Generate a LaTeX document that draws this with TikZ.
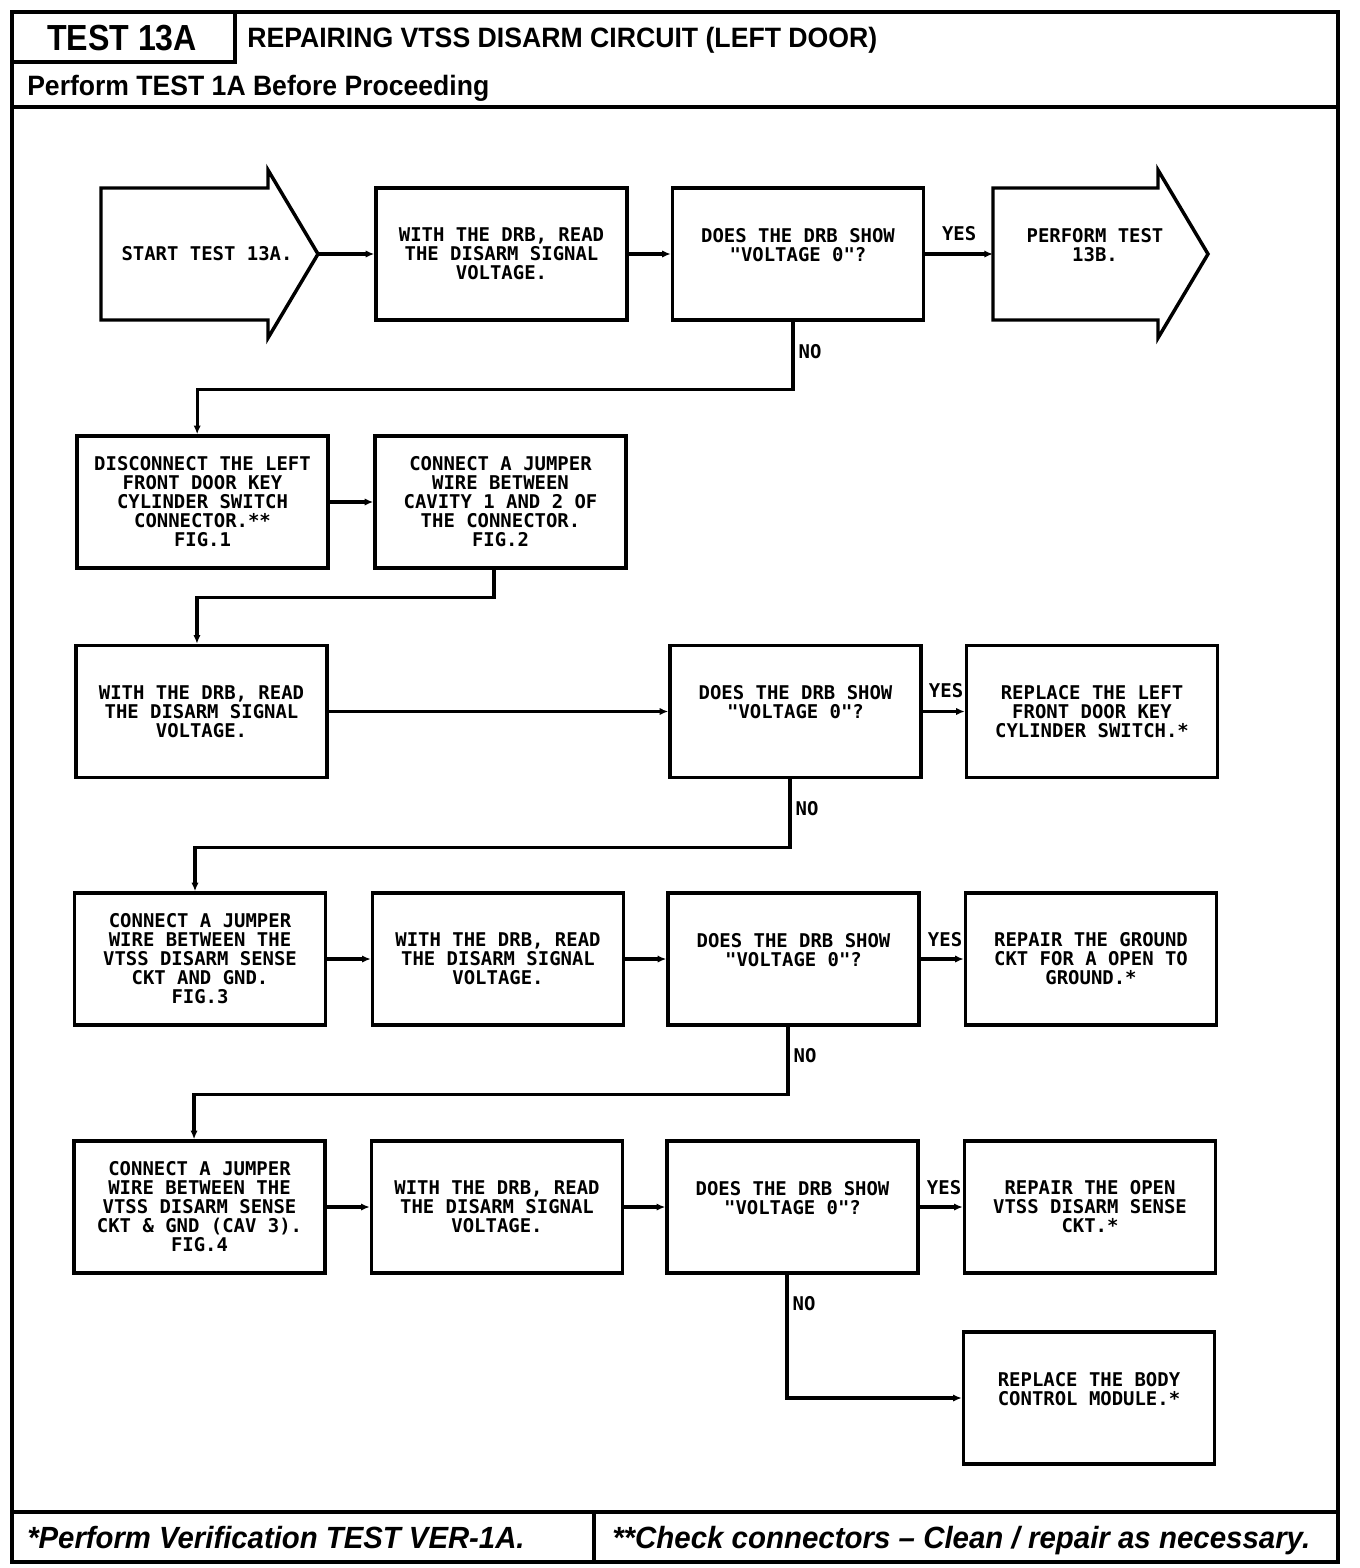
\documentclass[tikz,border=0pt]{standalone}
\usepackage{fontspec}
\usepackage{graphicx}
\setmainfont{Liberation Sans}
\newfontfamily\plotfam{DejaVu Sans Mono}
\usetikzlibrary{arrows.meta}
\newcommand\plotfont{\plotfam\bfseries\fontsize{14.2}{14.25}\selectfont}
\tikzset{
  frame/.style={line width=2.6pt},
  box/.style={draw, line width=2.6pt, minimum width=188.25pt, minimum height=99pt,
    align=center, font=\plotfont, inner sep=0pt},
  shaft/.style={line width=2.6pt, line join=miter},
  conn/.style={line width=2.4pt, -{Latex[length=6.5pt,width=5.5pt]}},
  lbl/.style={font=\plotfont, inner sep=0pt},
  txt/.style={align=center, font=\plotfont, inner sep=0pt},
}
\begin{document}
\begin{tikzpicture}[x=0.75pt,y=-0.75pt]
\useasboundingbox (0,0) rectangle (1360,1568);
% frame
\draw[frame] (12,12) rectangle (1338,1562);
\draw[frame] (12,62) -- (235,62) -- (235,12);
\draw[frame] (12,107) -- (1338,107);
\draw[frame] (12,1512) -- (1338,1512);
\draw[frame] (594,1512) -- (594,1562);
% header texts
\node[anchor=base, inner sep=0pt] (hdtest) at (122,50)
  {\resizebox{112.5pt}{\height}{\bfseries\fontsize{27.2}{27.2}\selectfont TEST 13A}};
\node[anchor=base west, inner sep=0pt] (hdtitle) at (247,47)
  {\resizebox{472.5pt}{\height}{\bfseries\fontsize{21}{21}\selectfont REPAIRING VTSS DISARM CIRCUIT (LEFT DOOR)}};
\node[anchor=base west, inner sep=0pt] (hdperf) at (27,95)
  {\resizebox{346.5pt}{\height}{\bfseries\fontsize{21}{21}\selectfont Perform TEST 1A Before Proceeding}};
\node[anchor=base west, inner sep=0pt] (ftleft) at (27,1548)
  {\resizebox{373pt}{\height}{\bfseries\itshape\fontsize{23}{23}\selectfont *Perform Verification TEST VER-1A.}};
\node[anchor=base west, inner sep=0pt] (ftright) at (612,1548)
  {\resizebox{523.5pt}{\height}{\bfseries\itshape\fontsize{23}{23}\selectfont **Check connectors -- Clean / repair as necessary.}};

% row 1
\draw[shaft] (101,188) -- (268,188) -- (268,170) -- (318,254) -- (268,338) -- (268,320) -- (101,320) -- cycle;
\coordinate (starttip) at (318,254);
\node[txt] (start) at (207,254) {START TEST 13A.};
\node[box] (b1) at (501.5,254) {WITH THE DRB, READ\\THE DISARM SIGNAL\\VOLTAGE.};
\node[box] (d1) at (798,254) {DOES THE DRB SHOW\\"VOLTAGE 0"?\\\mbox{}};
\draw[shaft] (993,188) -- (1158,188) -- (1158,170) -- (1208,254) -- (1158,338) -- (1158,320) -- (993,320) -- cycle;
\coordinate (endtail) at (993,254);
\node[txt] (endtxt) at (1095,254) {PERFORM TEST\\13B.\\\mbox{}};

% row 2
\node[box] (c1) at (202.5,502) {DISCONNECT THE LEFT\\FRONT DOOR KEY\\CYLINDER SWITCH\\CONNECTOR.**\\FIG.1};
\node[box] (c2) at (500.5,502) {CONNECT A JUMPER\\WIRE BETWEEN\\CAVITY 1 AND 2 OF\\THE CONNECTOR.\\FIG.2};

% row 3
\node[box] (r3a) at (201.5,711.5) {WITH THE DRB, READ\\THE DISARM SIGNAL\\VOLTAGE.};
\node[box] (d2) at (795.5,711.5) {DOES THE DRB SHOW\\"VOLTAGE 0"?\\\mbox{}};
\node[box] (r3r) at (1092,711.5) {REPLACE THE LEFT\\FRONT DOOR KEY\\CYLINDER SWITCH.*};

% row 4
\node[box] (r4a) at (200,959) {CONNECT A JUMPER\\WIRE BETWEEN THE\\VTSS DISARM SENSE\\CKT AND GND.\\FIG.3};
\node[box] (r4b) at (498,959) {WITH THE DRB, READ\\THE DISARM SIGNAL\\VOLTAGE.};
\node[box] (d3) at (793.5,959) {DOES THE DRB SHOW\\"VOLTAGE 0"?\\\mbox{}};
\node[box] (r4r) at (1091,959) {REPAIR THE GROUND\\CKT FOR A OPEN TO\\GROUND.*};

% row 5
\node[box] (r5a) at (199.5,1207) {CONNECT A JUMPER\\WIRE BETWEEN THE\\VTSS DISARM SENSE\\CKT \& GND (CAV 3).\\FIG.4};
\node[box] (r5b) at (497,1207) {WITH THE DRB, READ\\THE DISARM SIGNAL\\VOLTAGE.};
\node[box] (d4) at (792.5,1207) {DOES THE DRB SHOW\\"VOLTAGE 0"?\\\mbox{}};
\node[box] (r5r) at (1090,1207) {REPAIR THE OPEN\\VTSS DISARM SENSE\\CKT.*};

% row 6
\node[box] (r6) at (1089,1398) {REPLACE THE BODY\\CONTROL MODULE.*\\\mbox{}};

% connectors
\draw[conn] (starttip) -- (b1);
\draw[conn] (b1) -- (d1);
\draw[conn] (d1) -- node[lbl, yshift=15pt]{YES} (endtail);
\draw[conn] ([xshift=-3.75pt]d1.south) -- node[lbl, at start, anchor=west, xshift=3pt, yshift=-22.5pt]{NO} ++(0,68) -| ([xshift=-4pt]c1.north);

\draw[conn] (c1) -- (c2);
\draw[conn] ([xshift=-4.9pt]c2.south) -- ++(0,28) -| ([xshift=-3.4pt]r3a.north);

\draw[conn] (r3a) -- (d2);
\draw[conn] (d2) -- node[lbl, at end, anchor=east, yshift=15.5pt]{YES} (r3r);
\draw[conn] ([xshift=-4.1pt]d2.south) -- node[lbl, at start, anchor=west, xshift=3pt, yshift=-22pt]{NO} ++(0,68) -| ([xshift=-3.75pt]r4a.north);

\draw[conn] (r4a) -- (r4b);
\draw[conn] (r4b) -- (d3);
\draw[conn] (d3) -- node[lbl, at end, anchor=east, yshift=14.5pt]{YES} (r4r);
\draw[conn] ([xshift=-4.1pt]d3.south) -- node[lbl, at start, anchor=west, xshift=3pt, yshift=-22pt]{NO} ++(0,68) -| ([xshift=-4.1pt]r5a.north);

\draw[conn] (r5a) -- (r5b);
\draw[conn] (r5b) -- (d4);
\draw[conn] (d4) -- node[lbl, at end, anchor=east, yshift=14.5pt]{YES} (r5r);
\draw[conn] ([xshift=-4.1pt]d4.south) -- node[lbl, at start, anchor=west, xshift=3pt, yshift=-22pt]{NO} ++(0,0) |- (r6.west);
\end{tikzpicture}
\end{document}
